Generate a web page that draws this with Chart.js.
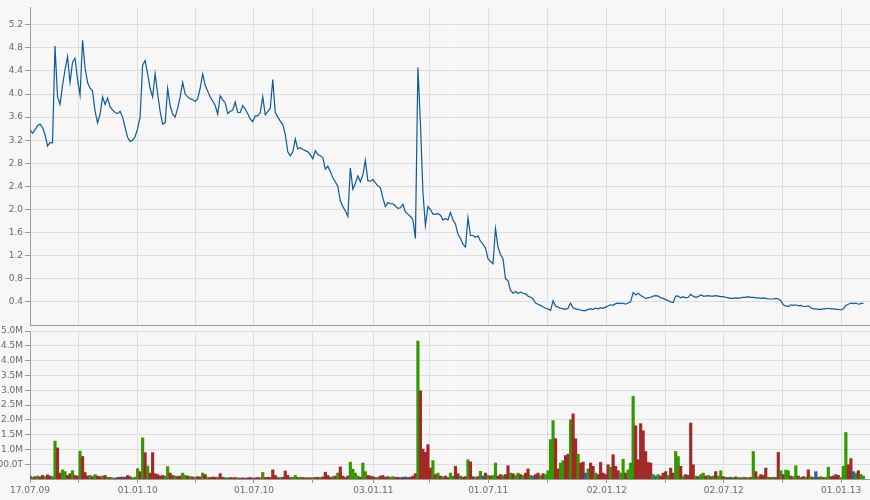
<!DOCTYPE html>
<html><head><meta charset="utf-8">
<script src="https://cdn.jsdelivr.net/npm/chart.js@4.4.1/dist/chart.umd.min.js"></script>
<style>
html,body{margin:0;padding:0;background:#f7f7f7;}
#wrap{position:relative;width:870px;height:500px;overflow:hidden;}
canvas{position:absolute;left:0;top:0;}
</style></head><body>
<div id="wrap"><canvas id="cTop" width="870" height="500"></canvas><canvas id="cBot" width="870" height="500"></canvas></div>
<script>
// ---- data ----
const startDate = '2009-07-17';
const stepDays = 3.9;          // spacing of the sampled quotes (calendar days)
const xMaxDays = 1309;

const tickDates = ['2009-07-17','2009-10-01','2010-01-01','2010-04-01','2010-07-01','2010-10-01','2011-01-03','2011-04-01','2011-07-01','2011-10-01','2012-01-02','2012-04-02','2012-07-02','2012-10-01','2013-01-01'];
const tickLabels = ['17.07.09','','01.01.10','','01.07.10','','03.01.11','','01.07.11','','02.01.12','','02.07.12','','01.01.13'];

const priceTicks = [0.4,0.8,1.2,1.6,2.0,2.4,2.8,3.2,3.6,4.0,4.4,4.8,5.2];
const volumeTicks = [0.5,1.0,1.5,2.0,2.5,3.0,3.5,4.0,4.5,5.0];

const price = [
3.38,3.32,3.38,3.45,3.48,3.42,3.3,3.1,3.16,3.15,
4.83,3.95,3.82,4.15,4.42,4.65,4.2,4.55,4.62,4.25,
3.98,4.93,4.45,4.2,4.1,4.05,3.7,3.5,3.65,3.95,
3.82,3.93,3.78,3.72,3.68,3.66,3.7,3.6,3.42,3.25,
3.18,3.2,3.26,3.4,3.6,4.5,4.58,4.35,4.1,3.95,
4.35,4.0,3.7,3.48,3.5,4.1,3.8,3.65,3.6,3.75,
3.95,4.2,4.0,3.95,3.92,3.9,3.87,3.92,4.1,4.35,
4.15,4.05,3.95,3.88,3.8,3.65,3.97,3.9,3.85,3.66,
3.7,3.72,3.86,3.68,3.68,3.8,3.74,3.66,3.57,3.52,
3.62,3.62,3.68,3.95,3.64,3.7,3.75,4.25,3.68,3.6,
3.53,3.47,3.3,3.0,2.93,3.0,3.22,3.05,3.07,3.04,
3.02,3.0,2.95,2.88,3.02,2.95,2.93,2.9,2.7,2.75,
2.66,2.55,2.48,2.4,2.15,2.05,1.98,1.88,2.72,2.35,
2.45,2.58,2.48,2.6,2.85,2.5,2.49,2.52,2.46,2.41,
2.38,2.2,2.05,2.12,2.1,2.1,2.06,2.02,2.03,2.09,
1.96,1.92,1.88,1.82,1.5,4.46,3.5,2.3,1.72,2.05,
2.0,1.92,1.92,1.93,1.9,1.82,1.84,1.82,1.95,1.82,
1.75,1.57,1.5,1.4,1.35,1.86,1.55,1.55,1.52,1.54,
1.45,1.4,1.33,1.15,1.1,1.06,1.67,1.35,1.22,1.15,
0.8,0.77,0.6,0.55,0.58,0.55,0.57,0.55,0.54,0.5,
0.48,0.45,0.38,0.36,0.34,0.31,0.29,0.28,0.25,0.42,
0.33,0.31,0.29,0.28,0.27,0.29,0.38,0.3,0.28,0.27,
0.26,0.25,0.25,0.27,0.28,0.27,0.29,0.28,0.3,0.29,
0.31,0.33,0.35,0.34,0.37,0.38,0.37,0.38,0.36,0.38,
0.4,0.56,0.52,0.55,0.51,0.49,0.46,0.47,0.48,0.5,
0.51,0.5,0.47,0.46,0.44,0.42,0.4,0.39,0.5,0.5,
0.47,0.49,0.47,0.48,0.53,0.5,0.48,0.49,0.52,0.5,
0.5,0.51,0.5,0.5,0.51,0.5,0.49,0.49,0.48,0.47,
0.46,0.46,0.47,0.46,0.47,0.48,0.48,0.49,0.48,0.48,
0.47,0.47,0.46,0.47,0.46,0.45,0.45,0.45,0.46,0.45,
0.42,0.35,0.33,0.32,0.35,0.34,0.35,0.33,0.34,0.32,
0.32,0.33,0.3,0.28,0.28,0.27,0.27,0.28,0.28,0.29,
0.28,0.28,0.27,0.27,0.26,0.28,0.34,0.36,0.38,0.37,
0.38,0.36,0.37,0.38];

// volume in millions
const volumeM = [
0.1,0.06,0.08,0.1,0.07,0.12,0.08,0.14,0.1,0.08,
1.28,1.05,0.2,0.31,0.25,0.12,0.18,0.28,0.12,0.1,
0.94,0.76,0.22,0.1,0.12,0.08,0.15,0.1,0.08,0.1,
0.12,0.06,0.05,0.04,0.03,0.05,0.06,0.07,0.06,0.12,
0.08,0.04,0.06,0.35,0.25,1.39,0.89,0.44,0.2,0.89,
0.18,0.15,0.1,0.12,0.1,0.42,0.2,0.12,0.1,0.08,
0.1,0.2,0.12,0.1,0.08,0.07,0.06,0.08,0.07,0.2,
0.15,0.06,0.05,0.07,0.06,0.06,0.18,0.06,0.05,0.04,
0.05,0.04,0.05,0.04,0.03,0.04,0.03,0.04,0.05,0.03,
0.04,0.05,0.04,0.22,0.05,0.06,0.05,0.31,0.12,0.05,
0.05,0.06,0.27,0.12,0.05,0.06,0.12,0.05,0.06,0.05,
0.04,0.05,0.04,0.05,0.05,0.06,0.05,0.07,0.23,0.12,
0.06,0.08,0.1,0.2,0.41,0.1,0.05,0.1,0.57,0.33,
0.2,0.1,0.06,0.54,0.25,0.12,0.1,0.08,0.05,0.06,
0.1,0.12,0.06,0.08,0.06,0.08,0.05,0.06,0.05,0.06,
0.07,0.05,0.06,0.1,0.18,4.66,2.98,1.01,0.9,1.16,
0.37,0.62,0.15,0.2,0.1,0.08,0.1,0.05,0.2,0.1,
0.43,0.18,0.1,0.06,0.08,0.65,0.58,0.08,0.06,0.08,
0.26,0.1,0.2,0.12,0.1,0.12,0.54,0.1,0.15,0.12,
0.15,0.45,0.2,0.18,0.12,0.2,0.15,0.12,0.2,0.34,
0.12,0.1,0.15,0.2,0.12,0.18,0.15,0.28,1.33,1.97,
1.36,0.34,0.54,0.62,0.79,0.84,2.0,2.2,1.36,0.84,
0.54,0.57,0.2,0.34,0.54,0.43,0.2,0.15,0.56,0.2,
0.15,0.48,0.4,0.82,0.43,0.28,0.2,0.67,0.2,0.31,
0.54,2.79,1.8,0.65,1.87,1.63,0.93,0.56,0.54,0.15,
0.1,0.15,0.1,0.2,0.25,0.12,0.37,0.2,0.93,0.76,
0.43,0.1,0.15,0.12,1.89,0.48,0.1,0.08,0.15,0.2,
0.1,0.12,0.08,0.1,0.25,0.1,0.28,0.08,0.06,0.05,
0.06,0.05,0.07,0.05,0.04,0.06,0.05,0.04,0.06,0.93,
0.25,0.08,0.15,0.12,0.37,0.06,0.05,0.06,0.05,0.9,
0.28,0.15,0.3,0.28,0.1,0.08,0.45,0.1,0.06,0.08,
0.06,0.31,0.08,0.05,0.25,0.06,0.08,0.05,0.06,0.4,
0.08,0.1,0.15,0.12,0.05,0.43,1.57,0.48,0.69,0.25,
0.2,0.28,0.15,0.1];

// bar direction: g = up, r = down, b = unchanged
const volumeDir = ('rgrgrrgrrg'+'grrggrrgrr'+'grrrgrgrrg'+'rgrgbrrbrr'+'rgggrgrgrr'+
 'rrrrggrrgr'+'rggrgrgrrg'+'rgrrrgrrgg'+'rrrgrrbrrr'+'rrrgrrrrrr'+
 'grrrrggrgr'+'rgrgrrgrrr'+'rgrgrrrrgg'+'ggrggrrrrg'+'rrrrggrrbr'+
 'brrrrgrrrr'+'rgrgrgrrgg'+'rrgrrgrrgr'+'gbrgrggrrg'+'rrgrggrgrr'+
 'gbrrgrgggg'+'rrggrrgrrg'+'rrbgrrgrrr'+'rrgrrrggrg'+'ggrrrrrrrg'+
 'bgrrrgrrgg'+'rgrrrrgrgg'+'rgrgrggrgr'+'bgrgrgrgrg'+'rgrrrgrgrr'+
 'grggrggrgr'+'grgrbrgrgg'+'rrrrgggrrb'+'grgg').split('');

// ---- build ----
const dayOf = d => (Date.parse(d) - Date.parse(startDate)) / 86400000;
const tickDays = tickDates.map(dayOf);
const pricePoints = price.map((v, i) => ({x: i * stepDays, y: v}));
const volPoints = volumeM.map((v, i) => ({x: i * stepDays, y: v}));
const dirColor = {g: '#339900', r: '#a32828', b: '#2461b3'};
const barColors = volumeDir.map(c => dirColor[c]);

const FONT = {family: '"DejaVu Sans", Verdana, sans-serif', size: 9};
const GRID = '#dedede', AXIS = '#9a9a9a', TXT = '#6a6a6a';

function xScale(showLabels) {
  return {
    type: 'linear', min: 0, max: xMaxDays, offset: false,
    grid: {color: GRID, offset: false, drawTicks: showLabels, tickLength: 4, tickColor: AXIS, lineWidth: 1},
    border: {color: AXIS, width: 1},
    ticks: {display: showLabels, autoSkip: false, maxRotation: 0, minRotation: 0, color: TXT, font: FONT, padding: 2,
      callback: (v, i) => tickLabels[i]},
    afterBuildTicks: s => { s.ticks = tickDays.map(v => ({value: v})); },
    afterFit: s => { s.height = showLabels ? 21 : 0; }
  };
}
function yScale(max, ticks, fmt) {
  return {
    min: 0, max: max,
    grid: {color: GRID, tickLength: 5, tickColor: AXIS, lineWidth: 1},
    border: {color: AXIS, width: 1},
    ticks: {color: TXT, font: FONT, padding: 2, autoSkip: false, callback: fmt},
    afterBuildTicks: s => { s.ticks = ticks.map(v => ({value: v})); },
    afterFit: s => { s.width = 30; }
  };
}
const common = {responsive: false, animation: false, events: [], devicePixelRatio: 1,
  plugins: {legend: {display: false}, tooltip: {enabled: false}}};

new Chart(document.getElementById('cTop'), {
  type: 'line',
  data: {datasets: [{data: pricePoints, borderColor: '#0d5a9e', borderWidth: 1.2, pointRadius: 0, tension: 0, fill: false}]},
  options: Object.assign({}, common, {
    layout: {padding: {top: 5, bottom: 175, left: 0, right: 0}},
    scales: {
      x: xScale(false),
      y: yScale(5.5, priceTicks, v => Number(v).toFixed(1))
    }
  })
});

new Chart(document.getElementById('cBot'), {
  type: 'bar',
  data: {datasets: [{data: volPoints, backgroundColor: barColors, borderWidth: 0, barPercentage: 1, categoryPercentage: 1}]},
  options: Object.assign({}, common, {
    layout: {padding: {top: 331, bottom: 0, left: 0, right: 0}},
    scales: {
      x: xScale(true),
      y: yScale(5, volumeTicks, v => v >= 1 ? Number(v).toFixed(1) + 'M' : (v * 1000).toFixed(1) + 'T')
    }
  })
});
</script>
</body></html>
